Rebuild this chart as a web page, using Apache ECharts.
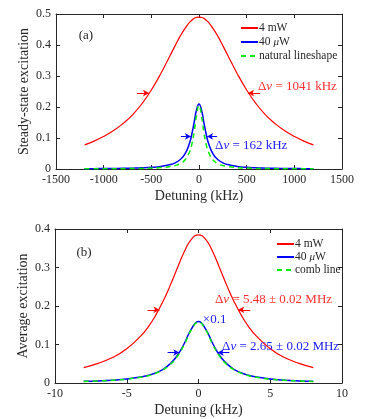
<!DOCTYPE html>
<html>
<head>
<meta charset="utf-8">
<script src="https://cdn.jsdelivr.net/npm/echarts@6/dist/echarts.min.js"></script>
<style>
  html, body { margin: 0; padding: 0; background: #fff; }
  #main { width: 374px; height: 419px; }
</style>
</head>
<body>
<div id="main"></div>
<script>
// panel (a): steady-state excitation vs detuning (kHz)
const detuningA = [-1200, -1100, -1000, -900, -800, -700, -600, -500, -400, -300, -250, -200, -150, -100, -75, -50, -25, 0,
  25, 50, 75, 100, 150, 200, 250, 300, 400, 500, 600, 700, 800, 900, 1000, 1100, 1200];
const red4mW_A = [0.078, 0.090, 0.105, 0.123, 0.146, 0.174, 0.210, 0.255, 0.308, 0.368, 0.398, 0.427, 0.452, 0.473, 0.480, 0.486, 0.489, 0.490,
  0.489, 0.486, 0.480, 0.473, 0.452, 0.427, 0.398, 0.368, 0.308, 0.255, 0.210, 0.174, 0.146, 0.123, 0.105, 0.090, 0.078];
const blue40uW_A = [0.001, 0.0011, 0.0014, 0.0017, 0.0021, 0.0028, 0.0038, 0.0054, 0.0083, 0.0143, 0.020, 0.030, 0.047, 0.083, 0.113, 0.152, 0.192, 0.210,
  0.192, 0.152, 0.113, 0.083, 0.047, 0.030, 0.020, 0.0143, 0.0083, 0.0054, 0.0038, 0.0028, 0.0021, 0.0017, 0.0014, 0.0011, 0.001];
const natural_A = [0.0005, 0.0006, 0.0007, 0.0009, 0.0012, 0.0015, 0.0020, 0.0029, 0.0045, 0.0079, 0.0112, 0.0169, 0.028, 0.054, 0.080, 0.121, 0.175, 0.205,
  0.175, 0.121, 0.080, 0.054, 0.028, 0.0169, 0.0112, 0.0079, 0.0045, 0.0029, 0.0020, 0.0015, 0.0012, 0.0009, 0.0007, 0.0006, 0.0005];

// panel (b): average excitation vs detuning (kHz)
const detuningB = [-8, -7, -6, -5, -4, -3.5, -3, -2.5, -2, -1.5, -1, -0.5, 0, 0.5, 1, 1.5, 2, 2.5, 3, 3.5, 4, 5, 6, 7, 8];
const red4mW_B = [0.040, 0.051, 0.066, 0.089, 0.123, 0.146, 0.175, 0.210, 0.251, 0.296, 0.340, 0.373, 0.385,
  0.373, 0.340, 0.296, 0.251, 0.210, 0.175, 0.146, 0.123, 0.089, 0.066, 0.051, 0.040];
const blue40uW_B = [0.0043, 0.0055, 0.0074, 0.0105, 0.0158, 0.020, 0.026, 0.035, 0.049, 0.070, 0.102, 0.140, 0.160,
  0.140, 0.102, 0.070, 0.049, 0.035, 0.026, 0.020, 0.0158, 0.0105, 0.0074, 0.0055, 0.0043];
const comb_B = [0.0041, 0.0053, 0.0071, 0.0100, 0.0151, 0.019, 0.025, 0.034, 0.047, 0.068, 0.099, 0.138, 0.158,
  0.138, 0.099, 0.068, 0.047, 0.034, 0.025, 0.019, 0.0151, 0.0100, 0.0071, 0.0053, 0.0041];

const pairs = (xs, ys) => xs.map((x, i) => [x, ys[i]]);

const FONT = 'Liberation Serif';
const TXT = '#262626';
const RED = '#ff0000';
const BLUE = '#0000ff';
const GREEN = '#00ee00';

const rich = {
  i: { fontStyle: 'italic', fontFamily: FONT, fontSize: 11, color: TXT },
};

function note(coord, text, color, size) {
  return {
    coord: coord,
    symbol: 'circle',
    symbolSize: 0,
    label: {
      show: true,
      position: 'right',
      distance: 0,
      formatter: text,
      color: color,
      fontFamily: FONT,
      fontSize: size || 13,
      rich: {
        i: { fontStyle: 'italic', fontFamily: FONT, fontSize: size || 13, color: color },
      },
    },
  };
}

function arrows(list, color) {
  return {
    silent: true,
    symbol: ['none', 'arrow'],
    symbolSize: [5, 6],
    lineStyle: { color: color, width: 1, type: 'solid' },
    itemStyle: { color: color },
    label: { show: false },
    data: list.map(a => [{ coord: a[0] }, { coord: a[1] }]),
  };
}

function frameX(gridIndex, min, max, interval, withLabels) {
  return {
    type: 'value',
    gridIndex: gridIndex,
    min: min,
    max: max,
    interval: interval,
    position: withLabels ? 'bottom' : 'top',
    name: withLabels ? 'Detuning (kHz)' : '',
    nameLocation: 'middle',
    nameGap: 20,
    nameMoveOverlap: false,
    nameTextStyle: { color: TXT, fontFamily: FONT, fontSize: 14 },
    axisLine: { show: true, onZero: false, lineStyle: { color: TXT, width: 1 } },
    axisTick: { show: true, inside: true, length: 4, lineStyle: { color: TXT } },
    axisLabel: { show: withLabels, color: TXT, fontFamily: FONT, fontSize: 12, margin: 5, formatter: v => String(v) },
    splitLine: { show: false },
  };
}

function frameY(gridIndex, max, interval, withLabels, name) {
  return {
    type: 'value',
    gridIndex: gridIndex,
    min: 0,
    max: max,
    interval: interval,
    position: withLabels ? 'left' : 'right',
    name: withLabels ? name : '',
    nameLocation: 'middle',
    nameGap: 25,
    nameMoveOverlap: false,
    nameTextStyle: { color: TXT, fontFamily: FONT, fontSize: 14 },
    axisLine: { show: true, onZero: false, lineStyle: { color: TXT, width: 1 } },
    axisTick: { show: true, inside: true, length: 4, lineStyle: { color: TXT } },
    axisLabel: { show: withLabels, color: TXT, fontFamily: FONT, fontSize: 12, margin: 5 },
    splitLine: { show: false },
  };
}

function legendBox(top, names, gap) {
  return {
    left: 235, top: top, orient: 'vertical',
    itemWidth: 17, itemHeight: 10, itemGap: gap,
    data: names,
    itemStyle: { opacity: 0 },
    textStyle: { color: TXT, fontFamily: FONT, fontSize: 11.5, padding: [0, 0, 0, -4], rich: rich },
    formatter: n => n === '40 μW' ? '40 {i|μ}W' : n,
  };
}

const chart = echarts.init(document.getElementById('main'), null, { renderer: 'canvas' });

const option = {
  animation: false,
  backgroundColor: '#fff',
  grid: [
    { left: 56, right: 32, top: 14, height: 155 },
    { left: 55, right: 32, top: 229, height: 154 },
  ],
  xAxis: [
    frameX(0, -1500, 1500, 500, true),
    frameX(0, -1500, 1500, 500, false),
    frameX(1, -10, 10, 5, true),
    frameX(1, -10, 10, 5, false),
  ],
  yAxis: [
    frameY(0, 0.5, 0.1, true, 'Steady-state excitation'),
    frameY(0, 0.5, 0.1, false),
    frameY(1, 0.4, 0.1, true, 'Average excitation'),
    frameY(1, 0.4, 0.1, false),
  ],
  legend: [
    legendBox(17, ['4 mW', '40 μW', 'natural lineshape'], 2),
    Object.assign(legendBox(233, ['4 mW', '40 μW', 'comb line'], 1), { left: 271 }),
  ],
  series: [
    {
      name: '4 mW', type: 'line', xAxisIndex: 0, yAxisIndex: 0,
      data: pairs(detuningA, red4mW_A), smooth: true, showSymbol: false, symbol: 'none',
      lineStyle: { color: RED, width: 1.2 }, itemStyle: { color: RED }, z: 3,
      markLine: arrows([[[-650, 0.245], [-525, 0.245]], [[640, 0.245], [515, 0.245]]], RED),
      markPoint: {
        data: [
          note([619, 0.265], '\u0394{i|\u03bd} = 1041 kHz', '#ff3030'),
          note([-1262, 0.432], '(a)', TXT),
        ],
      },
    },
    {
      name: '40 μW', type: 'line', xAxisIndex: 0, yAxisIndex: 0,
      data: pairs(detuningA, blue40uW_A), smooth: true, showSymbol: false, symbol: 'none',
      lineStyle: { color: BLUE, width: 1.5 }, itemStyle: { color: BLUE }, z: 4,
      markLine: arrows([[[-190, 0.105], [-85, 0.105]], [[190, 0.105], [85, 0.105]]], BLUE),
      markPoint: { data: [note([168, 0.077], '\u0394{i|\u03bd} = 162 kHz', '#2020ff')] },
    },
    {
      name: 'natural lineshape', type: 'line', xAxisIndex: 0, yAxisIndex: 0,
      data: pairs(detuningA, natural_A), smooth: true, showSymbol: false, symbol: 'none',
      lineStyle: { color: GREEN, width: 1.5, type: [5, 4] }, itemStyle: { color: GREEN }, z: 5,
    },
    {
      name: '4 mW', type: 'line', xAxisIndex: 2, yAxisIndex: 2,
      data: pairs(detuningB, red4mW_B), smooth: true, showSymbol: false, symbol: 'none',
      lineStyle: { color: RED, width: 1.2 }, itemStyle: { color: RED }, z: 3,
      markLine: arrows([[[-3.55, 0.19], [-2.72, 0.19]], [[3.6, 0.19], [2.77, 0.19]]], RED),
      markPoint: {
        data: [
          note([1.15, 0.216], '\u0394{i|\u03bd} = 5.48 \u00b1 0.02 MHz', '#ff3030'),
          note([-8.5, 0.338], '(b)', TXT),
        ],
      },
    },
    {
      name: '40 μW', type: 'line', xAxisIndex: 2, yAxisIndex: 2,
      data: pairs(detuningB, blue40uW_B), smooth: true, showSymbol: false, symbol: 'none',
      lineStyle: { color: BLUE, width: 1.5 }, itemStyle: { color: BLUE }, z: 4,
      markLine: arrows([[[-2.15, 0.079], [-1.34, 0.079]], [[2.15, 0.079], [1.34, 0.079]]], BLUE),
      markPoint: {
        data: [
          note([1.64, 0.094], '\u0394{i|\u03bd} = 2.65 \u00b1 0.02 MHz', '#2020ff'),
          note([0.3, 0.164], '\u00d70.1', '#2020ff'),
        ],
      },
    },
    {
      name: 'comb line', type: 'line', xAxisIndex: 2, yAxisIndex: 2,
      data: pairs(detuningB, comb_B), smooth: true, showSymbol: false, symbol: 'none',
      lineStyle: { color: GREEN, width: 1.5, type: [5, 4] }, itemStyle: { color: GREEN }, z: 5,
    },
  ],
};

chart.setOption(option);
</script>
</body>
</html>
